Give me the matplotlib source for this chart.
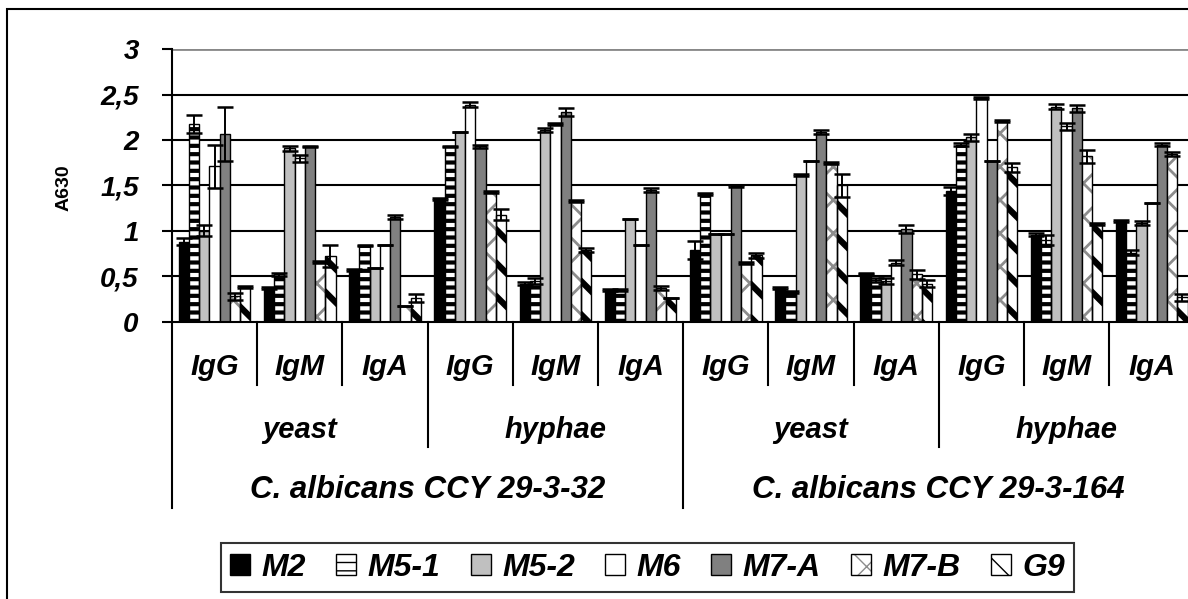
import numpy as np
import matplotlib.pyplot as plt
from matplotlib.patches import Patch, Rectangle
from matplotlib.transforms import blended_transform_factory

plt.rcParams['font.family'] = ['Liberation Sans', 'DejaVu Sans']

# categories: strain / form / antibody class
classes = ['IgG', 'IgM', 'IgA'] * 4
forms = ['yeast', 'hyphae', 'yeast', 'hyphae']
strains = ['C. albicans CCY 29-3-32', 'C. albicans CCY 29-3-164']

series = ['M2', 'M5-1', 'M5-2', 'M6', 'M7-A', 'M7-B', 'G9']

m2 = [0.88, 0.37, 0.57, 1.35, 0.42, 0.35, 0.79, 0.37, 0.53, 1.44, 0.96, 1.11]
m2_err = [0.04, 0.01, 0.01, 0.01, 0.02, 0.01, 0.10, 0.01, 0.01, 0.04, 0.02, 0.01]
m5_1 = [2.18, 0.52, 0.84, 1.93, 0.45, 0.35, 1.41, 0.33, 0.46, 1.95, 0.90, 0.76]
m5_1_err = [0.10, 0.02, 0.01, 0.01, 0.03, 0.01, 0.01, 0.01, 0.02, 0.02, 0.06, 0.03]
m5_2 = [1.00, 1.91, 0.59, 2.09, 2.11, 1.13, 0.97, 1.62, 0.45, 2.03, 2.37, 1.09]
m5_2_err = [0.06, 0.03, 0.00, 0.00, 0.02, 0.00, 0.00, 0.01, 0.03, 0.04, 0.03, 0.02]
m6 = [1.71, 1.80, 0.84, 2.39, 2.18, 0.84, 0.97, 1.77, 0.65, 2.46, 2.15, 1.31]
m6_err = [0.24, 0.04, 0.00, 0.03, 0.01, 0.00, 0.00, 0.00, 0.03, 0.01, 0.04, 0.00]
m7_a = [2.07, 1.93, 1.15, 1.93, 2.31, 1.45, 1.49, 2.09, 1.02, 1.77, 2.35, 1.95]
m7_a_err = [0.30, 0.01, 0.02, 0.02, 0.04, 0.02, 0.01, 0.02, 0.04, 0.00, 0.04, 0.02]
m7_b = [0.28, 0.66, 0.17, 1.43, 1.33, 0.37, 0.65, 1.75, 0.52, 2.21, 1.82, 1.85]
m7_b_err = [0.04, 0.01, 0.00, 0.01, 0.01, 0.02, 0.01, 0.01, 0.05, 0.01, 0.07, 0.02]
g9 = [0.38, 0.72, 0.26, 1.18, 0.79, 0.26, 0.73, 1.50, 0.42, 1.70, 1.08, 0.27]
g9_err = [0.01, 0.12, 0.04, 0.06, 0.02, 0.00, 0.03, 0.13, 0.04, 0.05, 0.01, 0.04]

values = [m2, m5_1, m5_2, m6, m7_a, m7_b, g9]
errors = [m2_err, m5_1_err, m5_2_err, m6_err, m7_a_err, m7_b_err, g9_err]

# fill, hatch, hatch colour, hatch linewidth
styles = [
    ('black', None, None, 1),
    ('white', '--', 'black', 3.0),
    ('#c0c0c0', None, None, 1),
    ('white', None, None, 1),
    ('#808080', None, None, 1),
    ('white', 'x', '#8c8c8c', 2.0),
    ('white', '\\', 'black', 4.5),
]

fig = plt.figure(figsize=(11.88, 5.99), dpi=100)
ax = fig.add_axes([172 / 1188, (599 - 321.7) / 599, 1022.4 / 1188, 272.4 / 599])

x = np.arange(len(classes))
w = 0.12
fnt = dict(fontweight='bold', fontstyle='italic')


def thick_hatch(p, lw):
    # hatch width is taken from rcParams at draw time, so wrap the draw call
    p.set_hatch_linewidth(lw)
    orig = p.draw

    def draw(renderer):
        with plt.rc_context({'hatch.linewidth': lw}):
            orig(renderer)
    p.draw = draw


def make_bar(xs, h, fill, hatch, hcol, hlw):
    if hatch:
        bars = ax.bar(xs, h, w, color=fill, edgecolor=hcol, hatch=hatch, linewidth=0, zorder=2)
        for b in bars:
            thick_hatch(b, hlw)
        ax.bar(xs, h, w, fill=False, edgecolor='black', linewidth=1.0, zorder=3)
    else:
        ax.bar(xs, h, w, color=fill, edgecolor='black', linewidth=1.0, zorder=2)


for i, (v, e, st) in enumerate(zip(values, errors, styles)):
    xs = x + (i - 3) * w
    make_bar(xs, v, *st)
    ax.errorbar(xs, v, yerr=e, fmt='none', ecolor='black', elinewidth=1.4,
                capsize=6, capthick=1.8, zorder=4)

ax.set_xlim(-0.5, 11.5)
ax.set_ylim(0, 3)
ax.set_yticks(np.arange(0, 3.01, 0.5))
ax.set_yticklabels(['0', '0,5', '1', '1,5', '2', '2,5', '3'], fontsize=20, **fnt)
ax.tick_params(axis='y', direction='out', length=7, width=1.5, pad=17)
ax.set_xticks([])
for yv in np.arange(0.5, 2.6, 0.5):
    ax.axhline(yv, color='black', linewidth=1.5, zorder=1)
ax.axhline(3, color='#888888', linewidth=2, zorder=1)
for s in ['top', 'right']:
    ax.spines[s].set_visible(False)
ax.spines['left'].set_linewidth(1.5)
ax.spines['bottom'].set_linewidth(1.5)
ax.spines['bottom'].set_zorder(5)

fig.text(64 / 1188, 1 - 188 / 599, 'A630', rotation=90, ha='center', va='center',
         fontsize=14, fontweight='bold')

# multi-level category axis
tr = blended_transform_factory(ax.transData, ax.transAxes)
for b in range(13):
    xb = b - 0.5
    if b % 6 == 0:
        depth = -0.684
    elif b % 3 == 0:
        depth = -0.46
    else:
        depth = -0.232
    ax.plot([xb, xb], [0, depth], transform=tr, color='black', linewidth=1.5, clip_on=False)

for i, c in enumerate(classes):
    ax.text(i, -0.166, c, transform=tr, ha='center', va='center', fontsize=21, **fnt)
for i, f in enumerate(forms):
    ax.text(3 * i + 1, -0.398, f, transform=tr, ha='center', va='center', fontsize=21, **fnt)
for i, s in enumerate(strains):
    ax.text(6 * i + 2.5, -0.618, s, transform=tr, ha='center', va='center', fontsize=22.5, **fnt)

# outer chart border
fig.patches.append(Rectangle((7 / 1188, -0.2), 1.2, (599 - 9) / 599 + 0.2,
                             transform=fig.transFigure, fill=False,
                             edgecolor='black', linewidth=1.5))

handles = []
for fill, hatch, hcol, hlw in styles:
    if hatch:
        p1 = Patch(facecolor=fill, edgecolor=hcol, hatch=hatch, linewidth=0)
        p1.set_hatch_linewidth(hlw)
        p2 = Patch(fill=False, edgecolor='black', linewidth=1.0)
        handles.append((p1, p2))
    else:
        handles.append(Patch(facecolor=fill, edgecolor='black', linewidth=1.0))

leg = fig.legend(handles, series, loc='center', bbox_to_anchor=(647.5 / 1188, 1 - 567.5 / 599),
                 ncol=7, frameon=True, fancybox=False, handlelength=0.63, handleheight=0.63,
                 handletextpad=0.35, columnspacing=0.95, borderpad=0.3,
                 prop=dict(family='Liberation Sans', size=23, weight='bold', style='italic'))
leg.get_frame().set_edgecolor('black')
leg.get_frame().set_linewidth(1.5)

fig.savefig('out.png', dpi=100)
